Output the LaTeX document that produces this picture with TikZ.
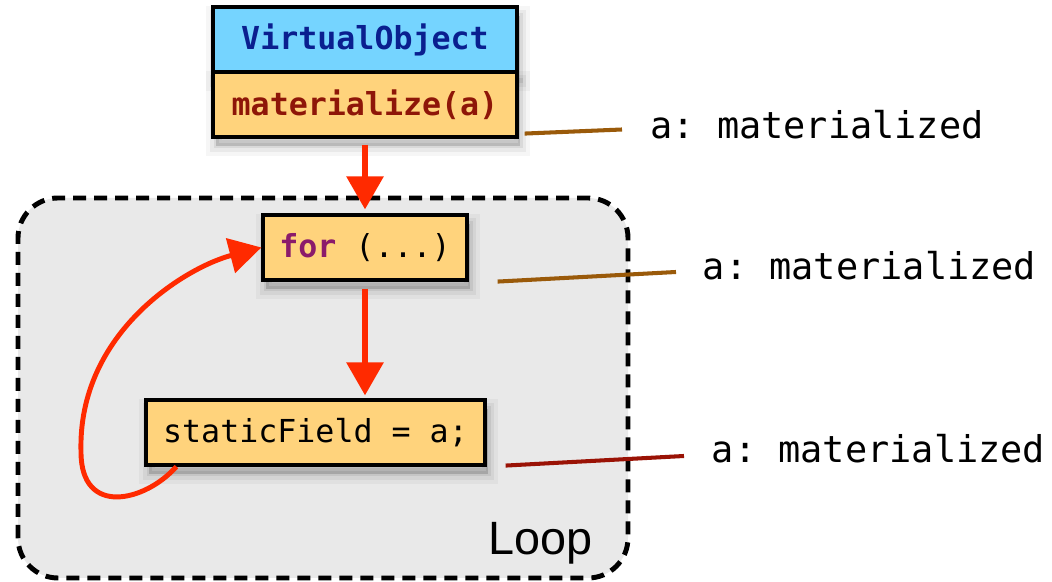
\documentclass[tikz,border=0pt]{standalone}
\usepackage{fontspec}
\setmonofont{DejaVu Sans Mono}
\setsansfont{Liberation Sans}
\usetikzlibrary{arrows.meta,shadows}

\definecolor{objblue}{HTML}{75D4FF}
\definecolor{codeorange}{HTML}{FFD37C}
\definecolor{navytext}{HTML}{0A1F8F}
\definecolor{callred}{HTML}{8E1608}
\definecolor{kwpurple}{HTML}{8B1A6B}
\definecolor{flowred}{HTML}{FF2A00}
\definecolor{statebrown}{HTML}{9A5A0A}
\definecolor{statered}{HTML}{9A1205}
\definecolor{loopgray}{HTML}{E9E9E9}

\tikzset{
    softshadow/.style={
        general shadow={draw=black, fill=black, opacity=0.035, line width=4mm, rounded corners=2mm, shadow xshift=0.6mm, shadow yshift=-1.8mm},
        general shadow={draw=black, fill=black, opacity=0.05, line width=2.4mm, rounded corners=1.2mm, shadow xshift=0.6mm, shadow yshift=-1.8mm},
        general shadow={draw=black, fill=black, opacity=0.07, line width=1mm, rounded corners=0.5mm, shadow xshift=0.6mm, shadow yshift=-1.8mm}},
    codebox/.style={draw=black, line width=1.8pt, inner sep=0pt, minimum height=1.3cm,
        font=\ttfamily\fontsize{18}{20}\selectfont, softshadow},
    flowedge/.style={draw=flowred, line width=3.4pt, -{Triangle[length=0.66cm,width=0.72cm]}},
    stateline/.style={line width=2.3pt},
    statelabel/.style={anchor=west, inner sep=0pt, font=\ttfamily\fontsize{21}{24}\selectfont},
}

\begin{document}
\begin{tikzpicture}
    \useasboundingbox (0,0) rectangle (21.04,11.64);

    % Loop region
    \draw[fill=loopgray, line width=2.8pt, dash pattern=on 0.26cm off 0.16cm, rounded corners=0.8cm] (0.36,0.08) rectangle (12.56,7.68);
    \node[font=\sffamily\fontsize{26.6}{30}\selectfont, anchor=base west, inner sep=0pt] (looplbl) at (9.76,0.54) {Loop};

    % Virtual object and its call
    \node[codebox, fill=objblue, minimum width=6.08cm, text=navytext, font=\ttfamily\bfseries\fontsize{18}{20}\selectfont] (vobj) at (7.30,10.85) {VirtualObject};
    \node[codebox, fill=codeorange, minimum width=6.08cm, text=callred, font=\ttfamily\bfseries\fontsize{18}{20}\selectfont] (mat) at (7.30,9.55) {materialize(a)};

    % Loop body
    \node[codebox, fill=codeorange, minimum width=4.08cm] (loophead) at (7.30,6.69) {\textcolor{kwpurple}{\bfseries for} (...)};
    \node[codebox, fill=codeorange, minimum width=6.78cm] (store) at (6.31,2.99) {staticField = a;};

    % Control flow
    \draw[flowedge, shorten <=0.12cm, shorten >=0.08cm] (mat.south) -- (loophead.north);
    \draw[flowedge, shorten <=0.14cm, shorten >=0.06cm] (loophead.south) -- (loophead.south |- store.north);
    \draw[flowedge, line width=2.8pt, -{Triangle[length=0.64cm,width=0.7cm]}] ([xshift=0.64cm]store.south west)
        .. controls (2.9,1.6) and (1.62,1.3) .. (1.62,2.6)
        .. controls (1.55,5.0) and (3.74,6.30) .. (loophead.west);

    % States of a
    \node[statelabel] (state1) at (13.0,9.15) {a: materialized};
    \node[statelabel] (state2) at (14.05,6.32) {a: materialized};
    \node[statelabel] (state3) at (14.23,2.66) {a: materialized};
    \draw[stateline, statebrown] ([shift={(0.12,0.1)}]mat.south east) -- ([shift={(-0.56,-0.1)}]state1.west);
    \draw[stateline, statebrown] ([xshift=0.58cm]loophead.south east) -- ([shift={(-0.53,-0.12)}]state2.west);
    \draw[stateline, statered] ([shift={(0.38,0.02)}]store.south east) -- ([shift={(-0.55,-0.14)}]state3.west);
\end{tikzpicture}
\end{document}
